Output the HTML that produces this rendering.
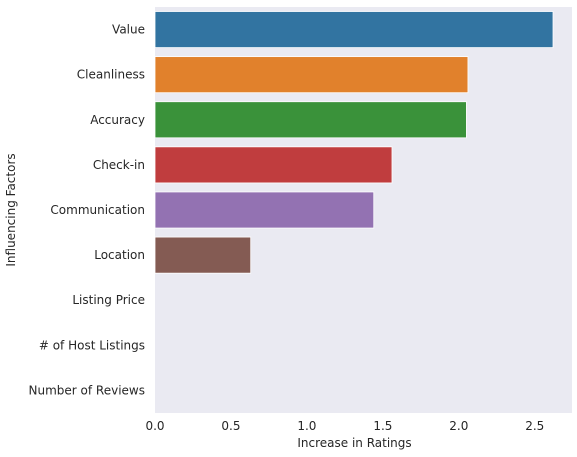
<!DOCTYPE html>
<html><head><meta charset="utf-8"><style>
body{margin:0;background:#fff;font-family:"DejaVu Sans","Liberation Sans",sans-serif}
</style></head><body>
<svg id="c" width="577" height="457" style="display:block;font-family:'DejaVu Sans','Liberation Sans',sans-serif"></svg>
<script>
const categories=["Value","Cleanliness","Accuracy","Check-in","Communication","Location","Listing Price","# of Host Listings","Number of Reviews"];
const values=[2.62,2.06,2.05,1.56,1.44,0.63,0,0,0];
const colors=["#3274a1","#e1812c","#3a923a","#c03d3e","#9372b2","#845b53","#d684bd","#7f7f7f","#a9aa35"];
const ticks=[0,0.5,1,1.5,2,2.5];
const tickLabels=["0.0","0.5","1.0","1.5","2.0","2.5"];
const L=155,R=572,T=7,B=413,xmax=2.745;
const ns="http://www.w3.org/2000/svg";
const svg=document.getElementById('c');
function x(v){return L+(R-L)*v/xmax;}
const band=(B-T)/categories.length;
function y(i){return T+band*i;}
function mk(t,a,p){const e=document.createElementNS(ns,t);for(const k in a)e.setAttribute(k,a[k]);(p||svg).appendChild(e);return e;}
const bg=mk('rect',{x:L,y:T,width:R-L,height:B-T,fill:'#eaeaf2'});


categories.forEach((c,i)=>{
  const r=mk('rect',{x:L,y:y(i)+band*0.1,width:x(values[i])-L,height:band*0.8,fill:colors[i],stroke:'#fff','stroke-width':0.8});
  
  
  const t=mk('text',{x:L-10,y:y(i)+band/2+4,'text-anchor':'end','font-size':12,fill:'#262626'});
  t.textContent=c;
  
  
});
ticks.forEach((v,i)=>{
  const t=mk('text',{x:x(v),y:430,'text-anchor':'middle','font-size':12,fill:'#262626'});
  t.textContent=tickLabels[i];
  
  
});
const xt=mk('text',{x:(L+R)/2-9,y:447,'text-anchor':'middle','font-size':12,fill:'#262626'});
xt.textContent='Increase in Ratings';


const yt=mk('text',{x:0,y:0,'text-anchor':'middle','font-size':12,fill:'#262626',transform:'translate(15,'+((T+B)/2)+') rotate(-90)'});
yt.textContent='Influencing Factors';


</script>
</body></html>
